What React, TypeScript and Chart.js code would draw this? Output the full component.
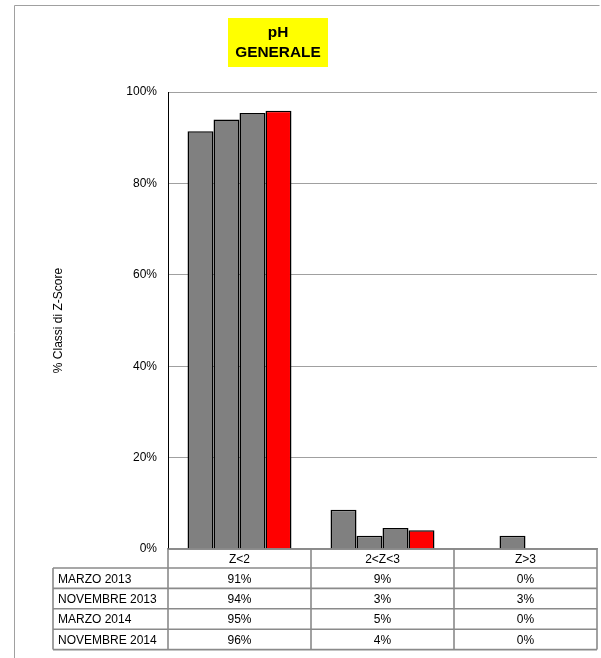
import React, { useEffect, useRef } from "react";
import { Chart, registerables } from "chart.js";

Chart.register(...registerables);

const categories = ["Z<2", "2<Z<3", "Z>3"];
const seriesNames = ["MARZO 2013", "NOVEMBRE 2013", "MARZO 2014", "NOVEMBRE 2014"];
const marzo2013 = [91.4, 8.6, 0];
const novembre2013 = [94.0, 2.9, 2.9];
const marzo2014 = [95.4, 4.6, 0];
const novembre2014 = [95.9, 4.1, 0];
const seriesValues = [marzo2013, novembre2013, marzo2014, novembre2014];
const seriesColors = ["#808080", "#808080", "#808080", "#ff0000"];
const yTicks = [0, 20, 40, 60, 80, 100];
const titleLines = ["pH", "GENERALE"];
const yTitle = "% Classi di Z-Score";

const FONT = "'Liberation Sans', Arial, sans-serif";

const decorPlugin = {
  id: "decor",
  beforeDraw(chart: any) {
    const ctx = chart.ctx;
    ctx.save();
    ctx.fillStyle = "#ffffff";
    ctx.fillRect(0, 0, chart.width, chart.height);
    // outer frame
    ctx.strokeStyle = "#a0a0a0";
    ctx.lineWidth = 1;
    ctx.beginPath();
    ctx.moveTo(14.5, chart.height + 2);
    ctx.lineTo(14.5, 5.5);
    ctx.lineTo(chart.width - 1.5, 5.5);
    ctx.stroke();
    // title box
    ctx.fillStyle = "#ffff00";
    ctx.fillRect(228, 18, 100, 49);
    ctx.fillStyle = "#000000";
    ctx.font = `bold 15.4px ${FONT}`;
    ctx.textAlign = "center";
    ctx.textBaseline = "middle";
    ctx.fillText(titleLines[0], 278, 33);
    ctx.fillText(titleLines[1], 278, 53);
    ctx.restore();
  },
  afterDraw(chart: any) {
    const ctx = chart.ctx;
    const xs = chart.scales.x;
    const area = chart.chartArea;
    const n = categories.length;
    const catW = (area.right - area.left) / n;
    const top = area.bottom;
    const headerH = 19;
    const rowH = 20.4;
    const tableLeft = 53;
    const bottom = top + headerH + rowH * seriesNames.length;
    ctx.save();
    ctx.strokeStyle = "#8a8a8a";
    ctx.lineWidth = 1.6;
    ctx.beginPath();
    // header top
    ctx.moveTo(area.left, top);
    ctx.lineTo(area.right, top);
    for (let r = 0; r <= seriesNames.length; r++) {
      const y = top + headerH + r * rowH;
      ctx.moveTo(tableLeft, y);
      ctx.lineTo(area.right, y);
    }
    ctx.moveTo(tableLeft, top + headerH);
    ctx.lineTo(tableLeft, bottom);
    for (let i = 0; i <= n; i++) {
      const x = i < n ? xs.getPixelForValue(i) - catW / 2 : xs.getPixelForValue(n - 1) + catW / 2;
      ctx.moveTo(x, top);
      ctx.lineTo(x, bottom);
    }
    ctx.stroke();

    ctx.fillStyle = "#000000";
    ctx.font = `12px ${FONT}`;
    ctx.textBaseline = "middle";
    ctx.textAlign = "center";
    categories.forEach((c, i) => {
      ctx.fillText(c, xs.getPixelForValue(i), top + headerH / 2 + 1);
    });
    seriesNames.forEach((name, r) => {
      const y = top + headerH + r * rowH + rowH / 2 + 1;
      ctx.textAlign = "left";
      ctx.fillText(name, tableLeft + 5, y);
      ctx.textAlign = "center";
      seriesValues[r].forEach((v, i) => {
        ctx.fillText(Math.round(v) + "%", xs.getPixelForValue(i), y);
      });
    });
    ctx.restore();
  },
};

export default function App() {
  const ref = useRef<HTMLCanvasElement | null>(null);
  useEffect(() => {
    if (!ref.current) return;
    Chart.defaults.font.family = FONT;
    const chart = new Chart(ref.current, {
      type: "bar",
      data: {
        labels: categories,
        datasets: seriesNames.map((name, i) => ({
          label: name,
          data: seriesValues[i],
          backgroundColor: seriesColors[i],
          borderColor: "#000000",
          borderWidth: 1.5,
          categoryPercentage: 0.727,
          barPercentage: 1,
        })),
      },
      options: {
        responsive: false,
        animation: false,
        devicePixelRatio: 1,
        layout: { padding: { left: 0, top: 92, right: 4, bottom: 109 } },
        plugins: {
          legend: { display: false },
          title: { display: false },
          tooltip: { enabled: false },
        },
        scales: {
          x: {
            ticks: { display: false },
            grid: { display: false, drawTicks: false },
            border: { display: true, color: "#8a8a8a", width: 1.6 },
            afterFit: (s: any) => {
              s.height = 0;
            },
          },
          y: {
            min: 0,
            max: 100,
            afterBuildTicks: (s: any) => {
              s.ticks = yTicks.map((v) => ({ value: v }));
            },
            ticks: {
              color: "#000000",
              font: { size: 12, family: FONT },
              padding: 11,
              callback: (v: any) => v + "%",
            },
            grid: { color: "#a0a0a0", lineWidth: 1, drawTicks: false },
            border: { display: true, color: "#000000", width: 1 },
            title: {
              display: true,
              text: yTitle,
              color: "#000000",
              font: { size: 12, family: FONT },
              padding: { top: 51, bottom: 0 },
            },
            afterFit: (s: any) => {
              s.width = 168;
            },
          },
        },
      },
      plugins: [decorPlugin],
    });
    return () => chart.destroy();
  }, []);
  return (
    <div style={{ position: "fixed", left: 0, top: 0, width: 601, height: 658, background: "#fff" }}>
      <canvas ref={ref} width={601} height={658} style={{ display: "block" }} />
    </div>
  );
}
